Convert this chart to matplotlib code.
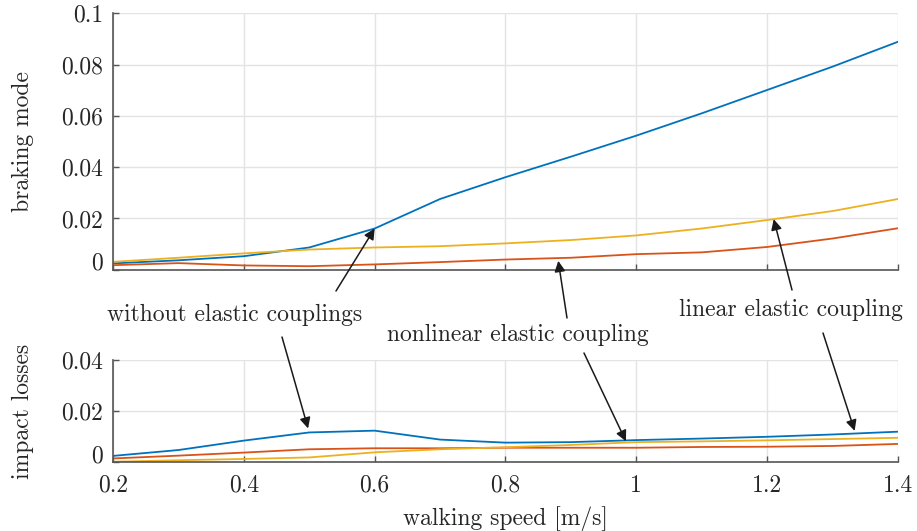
import numpy as np
import matplotlib
matplotlib.use('Agg')
import matplotlib.pyplot as plt

plt.rcParams['font.family'] = ['cmr10', 'DejaVu Serif']
plt.rcParams['axes.formatter.use_mathtext'] = True

# walking speed [m/s]
speed = [0.2, 0.3, 0.4, 0.5, 0.6, 0.7, 0.8, 0.9, 1.0, 1.1, 1.2, 1.3, 1.4]

# braking mode
braking_blue = [0.0025, 0.0037, 0.0053, 0.0087, 0.0161, 0.0276, 0.0361, 0.0441, 0.0523, 0.0610, 0.0701, 0.0792, 0.0889]
braking_red = [0.0018, 0.0026, 0.0017, 0.0014, 0.0021, 0.0030, 0.0040, 0.0047, 0.0061, 0.0068, 0.0089, 0.0122, 0.0162]
braking_yellow = [0.0031, 0.0047, 0.0064, 0.0079, 0.0087, 0.0092, 0.0103, 0.0116, 0.0134, 0.0161, 0.0194, 0.0229, 0.0276]

# impact losses
impact_blue = [0.0024, 0.0047, 0.0084, 0.0116, 0.0123, 0.0088, 0.0076, 0.0078, 0.0086, 0.0092, 0.0099, 0.0108, 0.0119]
impact_red = [0.0014, 0.0025, 0.0037, 0.0050, 0.0054, 0.0054, 0.0056, 0.0056, 0.0056, 0.0059, 0.0060, 0.0063, 0.0071]
impact_yellow = [0.0001, 0.0007, 0.0012, 0.0018, 0.0038, 0.0050, 0.0058, 0.0067, 0.0078, 0.0081, 0.0085, 0.0090, 0.0095]

xticks = [0.2, 0.4, 0.6, 0.8, 1.0, 1.2, 1.4]
xticklabels = ['0.2', '0.4', '0.6', '0.8', '1', '1.2', '1.4']
top_yticks = [0, 0.02, 0.04, 0.06, 0.08, 0.1]
top_yticklabels = ['0', '0.02', '0.04', '0.06', '0.08', '0.1']
bot_yticks = [0, 0.02, 0.04]
bot_yticklabels = ['0', '0.02', '0.04']

BLUE = '#0072BD'
RED = '#D95319'
YELLOW = '#EDB120'
DARK = '#262626'
FS = 17


def style_axes(ax, yticks, yticklabels, ylim):
    ax.set_xlim(0.2, 1.4)
    ax.set_ylim(*ylim)
    ax.set_xticks(xticks)
    ax.set_yticks(yticks)
    ax.set_yticklabels(yticklabels)
    ax.grid(True, color='#e3e3e3', lw=1.0)
    ax.set_axisbelow(True)
    for s in ['top', 'right']:
        ax.spines[s].set_visible(False)
    for s in ['left', 'bottom']:
        ax.spines[s].set_color('#555555')
        ax.spines[s].set_linewidth(1.2)
    ax.tick_params(direction='in', length=4, width=1, color='#555555',
                   labelsize=FS, labelcolor=DARK, pad=7)
    # the zero label sits a little above its tick, as in the original
    ax.get_yticklabels()[0].set_va('baseline')


def main():
    fig = plt.figure(figsize=(9.17, 5.31), dpi=100)
    ax1 = fig.add_axes([0.1232, 0.4919, 0.8561, 0.4831])
    ax2 = fig.add_axes([0.1232, 0.1299, 0.8561, 0.1921])

    lw = 1.3
    ax1.plot(speed, braking_blue, color=BLUE, lw=lw)
    ax1.plot(speed, braking_red, color=RED, lw=lw)
    ax1.plot(speed, braking_yellow, color=YELLOW, lw=lw)
    ax2.plot(speed, impact_blue, color=BLUE, lw=lw)
    ax2.plot(speed, impact_red, color=RED, lw=lw)
    ax2.plot(speed, impact_yellow, color=YELLOW, lw=lw)

    style_axes(ax1, top_yticks, top_yticklabels, (0, 0.1))
    style_axes(ax2, bot_yticks, bot_yticklabels, (0, 0.04))
    ax1.set_xticklabels([])
    ax2.set_xticklabels(xticklabels)
    ax2.tick_params(axis='x', pad=9)

    ax1.set_ylabel('braking mode', fontsize=FS, color=DARK)
    ax2.set_ylabel('impact losses', fontsize=FS, color=DARK)
    ax1.yaxis.set_label_coords(-0.1, 0.5)
    ax2.yaxis.set_label_coords(-0.1, 0.5)
    ax2.set_xlabel('walking speed [m/s]', fontsize=FS, color=DARK)
    ax2.xaxis.set_label_coords(0.5, -0.43)

    # annotations: text in figure coordinates, arrows pointing at the curves
    fig.text(235 / 917, 1 - 315 / 531, 'without elastic couplings', fontsize=FS,
             ha='center', va='center', color=DARK)
    fig.text(517.5 / 917, 1 - 335 / 531, 'nonlinear elastic coupling', fontsize=FS,
             ha='center', va='center', color=DARK)
    fig.text(791 / 917, 1 - 310 / 531, 'linear elastic coupling', fontsize=FS,
             ha='center', va='center', color=DARK)

    arrow = dict(arrowstyle='-|>', color='#1a1a1a', lw=1.1, mutation_scale=16,
                 shrinkA=0, shrinkB=0)
    targets = [
        (ax1, 0.6, braking_blue, (336, 291), 0),
        (ax2, 0.5, impact_blue, (282, 337), 3),
        (ax1, 0.88, braking_red, (567, 318), 2),
        (ax2, 0.985, impact_yellow, (584, 353), 1),
        (ax1, 1.21, braking_yellow, (792, 290), 0),
        (ax2, 1.335, impact_blue, (823, 333), 2),
    ]
    for ax, xv, series, tail, gap in targets:
        yv = np.interp(xv, speed, series)
        ax.annotate('', xy=(xv, yv), xycoords='data',
                    xytext=(tail[0] / 917, 1 - tail[1] / 531), textcoords='figure fraction',
                    arrowprops=dict(arrow, shrinkB=gap), annotation_clip=False)

    plt.savefig('out.png', dpi=100)


if __name__ == '__main__':
    main()
